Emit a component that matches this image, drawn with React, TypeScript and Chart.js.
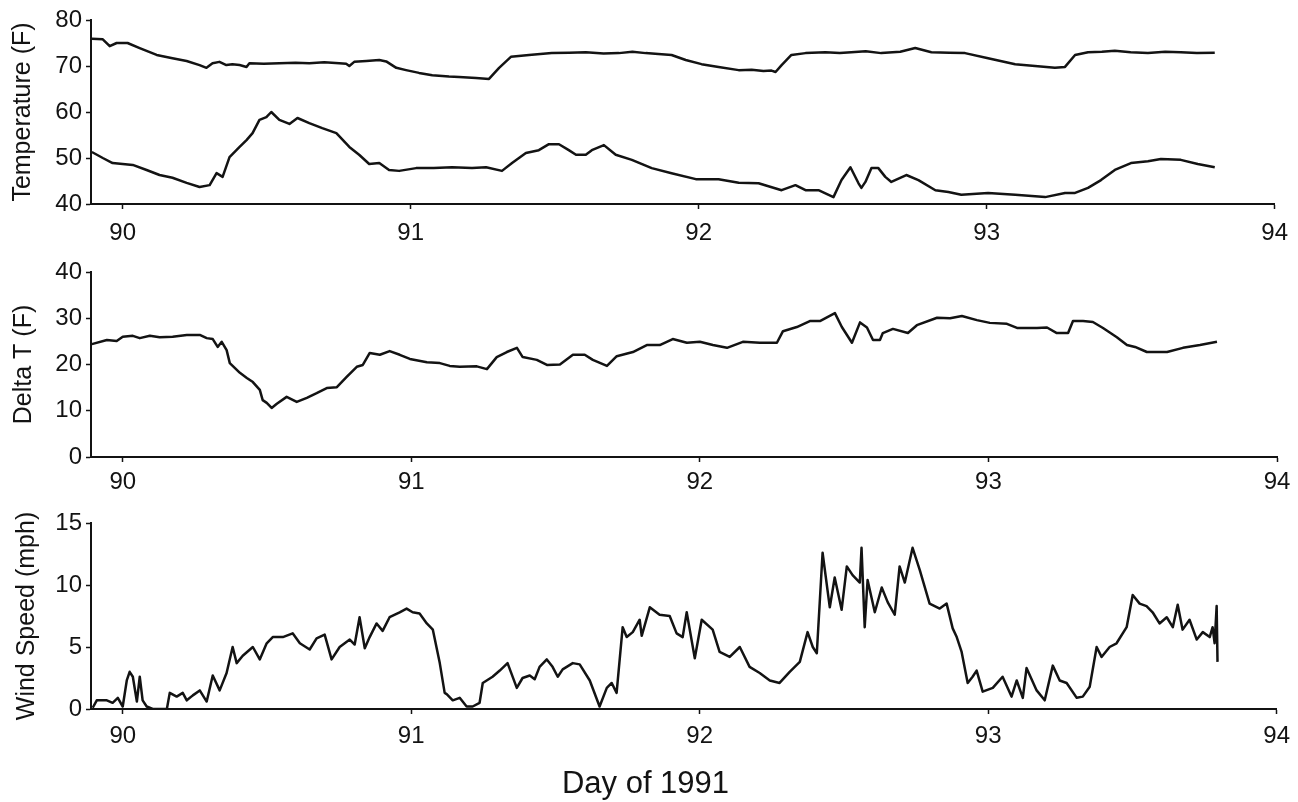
import React, { useEffect, useRef } from "react";
import { Chart, registerables } from "chart.js";

Chart.register(...registerables);

// Shared day axis (day of year 1991)
const X_MIN = 89.89;
const X_MAX = 94;
const dayTicks = [90, 91, 92, 93, 94];

// Indoor air temperature (F)
const indoorDays = [89.893, 89.931, 89.955, 89.979, 90.017, 90.059, 90.118, 90.173, 90.222, 90.267, 90.291, 90.312, 90.336, 90.36, 90.381, 90.406, 90.43, 90.44, 90.49, 90.544, 90.6, 90.648, 90.7, 90.752, 90.776, 90.787, 90.804, 90.846, 90.891, 90.915, 90.95, 90.984, 91.029, 91.075, 91.133, 91.168, 91.227, 91.272, 91.307, 91.348, 91.411, 91.45, 91.49, 91.55, 91.608, 91.67, 91.723, 91.77, 91.816, 91.86, 91.906, 91.955, 92.01, 92.069, 92.139, 92.184, 92.225, 92.253, 92.267, 92.288, 92.322, 92.371, 92.44, 92.49, 92.53, 92.58, 92.634, 92.7, 92.752, 92.808, 92.87, 92.925, 93.005, 93.099, 93.168, 93.237, 93.272, 93.307, 93.352, 93.4, 93.445, 93.5, 93.56, 93.62, 93.674, 93.73, 93.792];
const indoorTemp = [75.9, 75.8, 74.3, 75.0, 75.0, 73.9, 72.4, 71.7, 71.1, 70.2, 69.6, 70.6, 70.9, 70.2, 70.4, 70.2, 69.8, 70.6, 70.5, 70.6, 70.7, 70.6, 70.8, 70.6, 70.5, 70.0, 70.9, 71.1, 71.3, 71.0, 69.6, 69.1, 68.5, 68.0, 67.7, 67.6, 67.4, 67.2, 69.6, 72.0, 72.4, 72.6, 72.8, 72.9, 73.0, 72.7, 72.8, 73.1, 72.8, 72.6, 72.4, 71.3, 70.4, 69.8, 69.1, 69.2, 68.9, 69.0, 68.7, 70.2, 72.4, 72.8, 73.0, 72.8, 73.0, 73.2, 72.8, 73.1, 73.9, 73.0, 72.9, 72.8, 71.7, 70.4, 70.0, 69.6, 69.8, 72.4, 73.0, 73.1, 73.3, 73.0, 72.8, 73.1, 73.0, 72.8, 72.9];

// Outdoor air temperature (F)
const outdoorDays = [89.893, 89.931, 89.965, 90.035, 90.083, 90.128, 90.173, 90.222, 90.267, 90.302, 90.326, 90.347, 90.371, 90.406, 90.43, 90.451, 90.475, 90.499, 90.516, 90.544, 90.579, 90.607, 90.648, 90.693, 90.742, 90.787, 90.821, 90.856, 90.891, 90.925, 90.96, 91.019, 91.08, 91.144, 91.213, 91.262, 91.317, 91.352, 91.4, 91.445, 91.48, 91.515, 91.549, 91.574, 91.608, 91.629, 91.671, 91.712, 91.768, 91.837, 91.906, 91.99, 92.069, 92.139, 92.208, 92.288, 92.336, 92.371, 92.416, 92.468, 92.496, 92.527, 92.555, 92.565, 92.579, 92.6, 92.624, 92.648, 92.669, 92.721, 92.763, 92.822, 92.867, 92.912, 93.005, 93.099, 93.203, 93.272, 93.307, 93.352, 93.397, 93.445, 93.501, 93.56, 93.605, 93.674, 93.733, 93.792];
const outdoorTemp = [51.3, 50.0, 48.9, 48.5, 47.4, 46.3, 45.7, 44.6, 43.7, 44.1, 46.7, 45.9, 50.2, 52.4, 53.9, 55.4, 58.3, 58.9, 60.0, 58.3, 57.4, 58.7, 57.6, 56.5, 55.4, 52.4, 50.7, 48.7, 48.9, 47.4, 47.2, 47.8, 47.8, 48.0, 47.8, 48.0, 47.2, 48.9, 51.1, 51.7, 53.0, 53.0, 51.7, 50.7, 50.7, 51.7, 52.8, 50.7, 49.6, 47.8, 46.7, 45.4, 45.4, 44.6, 44.5, 43.0, 44.1, 43.0, 43.0, 41.5, 45.2, 48.0, 44.5, 43.5, 44.8, 47.8, 47.8, 45.9, 44.8, 46.3, 45.2, 43.0, 42.6, 42.0, 42.4, 42.0, 41.5, 42.4, 42.4, 43.5, 45.2, 47.4, 48.9, 49.3, 49.8, 49.6, 48.7, 48.0];

// Indoor minus outdoor temperature (F)
const deltaDays = [89.893, 89.945, 89.979, 90.0, 90.035, 90.059, 90.094, 90.128, 90.173, 90.222, 90.267, 90.291, 90.312, 90.329, 90.343, 90.36, 90.371, 90.406, 90.43, 90.451, 90.475, 90.485, 90.499, 90.516, 90.534, 90.568, 90.603, 90.638, 90.672, 90.707, 90.742, 90.776, 90.811, 90.832, 90.856, 90.891, 90.925, 90.96, 90.995, 91.054, 91.099, 91.133, 91.168, 91.227, 91.262, 91.296, 91.331, 91.366, 91.386, 91.435, 91.47, 91.515, 91.56, 91.601, 91.629, 91.678, 91.712, 91.768, 91.816, 91.861, 91.906, 91.955, 92.0, 92.045, 92.094, 92.149, 92.208, 92.267, 92.288, 92.336, 92.381, 92.416, 92.468, 92.492, 92.527, 92.555, 92.579, 92.6, 92.624, 92.634, 92.669, 92.721, 92.752, 92.822, 92.867, 92.908, 92.96, 93.005, 93.064, 93.099, 93.168, 93.203, 93.237, 93.276, 93.293, 93.328, 93.362, 93.397, 93.445, 93.48, 93.508, 93.549, 93.619, 93.674, 93.733, 93.792];
const deltaT = [24.4, 25.3, 25.1, 26.0, 26.2, 25.7, 26.2, 25.9, 26.0, 26.4, 26.4, 25.7, 25.5, 23.8, 24.9, 23.1, 20.3, 18.2, 17.1, 16.2, 14.5, 12.3, 11.7, 10.6, 11.5, 13.0, 11.9, 12.8, 13.8, 14.9, 15.1, 17.3, 19.5, 19.9, 22.5, 22.1, 22.9, 22.1, 21.2, 20.5, 20.3, 19.7, 19.5, 19.6, 19.0, 21.6, 22.7, 23.6, 21.6, 21.0, 19.9, 20.0, 22.1, 22.1, 21.0, 19.7, 21.8, 22.7, 24.2, 24.2, 25.5, 24.7, 24.9, 24.2, 23.6, 24.9, 24.7, 24.7, 27.2, 28.1, 29.4, 29.4, 31.1, 28.1, 24.7, 29.1, 28.0, 25.3, 25.3, 26.8, 27.7, 26.8, 28.5, 30.1, 30.0, 30.5, 29.6, 29.0, 28.8, 27.9, 27.9, 28.0, 26.8, 26.8, 29.4, 29.4, 29.2, 27.9, 25.9, 24.2, 23.8, 22.7, 22.7, 23.6, 24.2, 24.9];

// Wind speed (mph)
const windDays = [89.896, 89.91, 89.945, 89.965, 89.983, 90.0, 90.014, 90.024, 90.035, 90.049, 90.059, 90.069, 90.083, 90.104, 90.153, 90.163, 90.187, 90.208, 90.222, 90.243, 90.267, 90.291, 90.312, 90.336, 90.36, 90.381, 90.395, 90.416, 90.451, 90.475, 90.499, 90.52, 90.555, 90.589, 90.614, 90.648, 90.672, 90.7, 90.724, 90.752, 90.787, 90.804, 90.821, 90.839, 90.856, 90.88, 90.901, 90.925, 90.96, 90.984, 91.005, 91.029, 91.054, 91.075, 91.099, 91.116, 91.123, 91.144, 91.168, 91.192, 91.213, 91.237, 91.248, 91.282, 91.307, 91.334, 91.366, 91.386, 91.411, 91.428, 91.445, 91.47, 91.49, 91.508, 91.525, 91.56, 91.584, 91.619, 91.653, 91.678, 91.695, 91.712, 91.733, 91.747, 91.768, 91.792, 91.799, 91.827, 91.861, 91.896, 91.92, 91.941, 91.955, 91.983, 92.007, 92.045, 92.069, 92.104, 92.139, 92.173, 92.208, 92.243, 92.277, 92.312, 92.347, 92.374, 92.392, 92.406, 92.426, 92.451, 92.468, 92.492, 92.51, 92.53, 92.555, 92.561, 92.572, 92.582, 92.607, 92.631, 92.652, 92.676, 92.693, 92.711, 92.738, 92.763, 92.797, 92.832, 92.856, 92.877, 92.891, 92.908, 92.929, 92.946, 92.96, 92.981, 93.016, 93.05, 93.081, 93.099, 93.12, 93.133, 93.168, 93.196, 93.224, 93.248, 93.272, 93.307, 93.328, 93.352, 93.376, 93.393, 93.421, 93.445, 93.48, 93.501, 93.525, 93.549, 93.57, 93.594, 93.619, 93.64, 93.657, 93.674, 93.698, 93.723, 93.744, 93.768, 93.778, 93.785, 93.792, 93.795];
const windSpeed = [0.1, 0.7, 0.7, 0.5, 0.9, 0.2, 2.3, 3.0, 2.6, 0.6, 2.6, 0.7, 0.2, 0.0, 0.0, 1.3, 1.0, 1.3, 0.7, 1.1, 1.5, 0.6, 2.7, 1.5, 2.9, 5.0, 3.7, 4.3, 5.0, 4.0, 5.3, 5.8, 5.8, 6.1, 5.3, 4.8, 5.7, 6.0, 4.0, 5.0, 5.6, 5.2, 7.4, 4.9, 5.8, 6.9, 6.3, 7.4, 7.8, 8.1, 7.8, 7.7, 6.9, 6.4, 3.7, 1.3, 1.2, 0.7, 0.9, 0.2, 0.2, 0.5, 2.1, 2.6, 3.1, 3.7, 1.7, 2.5, 2.7, 2.4, 3.4, 4.0, 3.4, 2.6, 3.2, 3.7, 3.6, 2.3, 0.2, 1.7, 2.1, 1.3, 6.6, 5.8, 6.2, 7.2, 5.9, 8.2, 7.6, 7.5, 6.1, 5.8, 7.8, 4.1, 7.2, 6.4, 4.6, 4.2, 5.0, 3.4, 2.9, 2.3, 2.1, 3.0, 3.8, 6.2, 5.0, 4.5, 12.6, 8.2, 10.6, 8.0, 11.5, 10.8, 10.2, 13.0, 6.6, 10.4, 7.8, 9.8, 8.6, 7.6, 11.5, 10.2, 13.0, 11.2, 8.5, 8.1, 8.5, 6.5, 5.8, 4.6, 2.1, 2.6, 3.1, 1.4, 1.7, 2.6, 1.0, 2.3, 0.9, 3.3, 1.5, 0.7, 3.5, 2.3, 2.1, 0.9, 1.0, 1.8, 5.0, 4.2, 5.0, 5.3, 6.6, 9.2, 8.5, 8.3, 7.8, 6.9, 7.4, 6.6, 8.4, 6.4, 7.2, 5.6, 6.2, 5.8, 6.6, 5.3, 8.3, 3.8];

// Value-axis ticks for each panel
const tempTicks = [40, 50, 60, 70, 80];
const deltaTicks = [0, 10, 20, 30, 40];
const windTicks = [0, 5, 10, 15];

const FONT = "'Liberation Sans', Arial, Helvetica, sans-serif";
const INK = "#131313";

type Series = { days: number[]; values: number[] };

type PanelSpec = {
  top: number;
  height: number;
  padTop: number;
  padLeft: number;
  yWidth: number;
  xHeight: number;
  yTitle: string;
  yTitlePad: number;
  yTicks: number[];
  xLabelPad: number;
  series: Series[];
  caption?: string;
};

const panels: PanelSpec[] = [
  {
    top: 0, height: 260, padTop: 20, padLeft: 0, yWidth: 91, xHeight: 56,
    yTitle: "Temperature (F)", yTitlePad: 10.5, yTicks: tempTicks, xLabelPad: 10,
    series: [
      { days: indoorDays, values: indoorTemp },
      { days: outdoorDays, values: outdoorTemp },
    ],
  },
  {
    top: 250, height: 260, padTop: 22, padLeft: 0, yWidth: 91, xHeight: 53,
    yTitle: "Delta T (F)", yTitlePad: 11.5, yTicks: deltaTicks, xLabelPad: 6,
    series: [{ days: deltaDays, values: deltaT }],
  },
  {
    top: 500, height: 302, padTop: 23, padLeft: 14, yWidth: 77, xHeight: 60,
    yTitle: "Wind Speed (mph)", yTitlePad: 0.5, yTicks: windTicks, xLabelPad: 8,
    series: [{ days: windDays, values: windSpeed }],
    caption: "Day of 1991",
  },
];

function buildConfig(spec: PanelSpec): any {
  const axisGrid = {
    display: true,
    drawOnChartArea: false,
    drawTicks: true,
    tickLength: 5,
    tickColor: INK,
    tickWidth: 1.5,
  };
  const axisBorder = { display: true, color: INK, width: 2 };
  const tickFont = { family: FONT, size: 24 };

  return {
    type: "line",
    data: {
      datasets: spec.series.map((s) => ({
        data: s.days.map((d, i) => ({ x: d, y: s.values[i] })),
        borderColor: INK,
        borderWidth: 2.5,
        borderJoinStyle: "round",
        pointRadius: 0,
        pointHoverRadius: 0,
        tension: 0,
        fill: false,
      })),
    },
    options: {
      responsive: false,
      maintainAspectRatio: false,
      animation: false,
      devicePixelRatio: 1,
      events: [],
      layout: {
        padding: { top: spec.padTop, left: spec.padLeft, right: 21, bottom: 0 },
      },
      plugins: {
        legend: { display: false },
        tooltip: { enabled: false },
        title: spec.caption
          ? {
              display: true,
              position: "bottom",
              text: spec.caption,
              color: INK,
              font: { family: FONT, size: 31, weight: "normal", lineHeight: 1 },
              padding: { top: 0, bottom: 2 },
            }
          : { display: false },
      },
      scales: {
        x: {
          type: "linear",
          min: X_MIN,
          max: X_MAX,
          afterBuildTicks: (scale: any) => {
            scale.ticks = dayTicks.map((v) => ({ value: v }));
          },
          afterFit: (scale: any) => {
            scale.height = spec.xHeight;
          },
          grid: axisGrid,
          border: axisBorder,
          ticks: {
            color: INK,
            font: tickFont,
            padding: spec.xLabelPad,
            maxRotation: 0,
            autoSkip: false,
            callback: (v: any) => String(v),
          },
        },
        y: {
          type: "linear",
          min: spec.yTicks[0],
          max: spec.yTicks[spec.yTicks.length - 1],
          afterBuildTicks: (scale: any) => {
            scale.ticks = spec.yTicks.map((v) => ({ value: v }));
          },
          afterFit: (scale: any) => {
            scale.width = spec.yWidth;
          },
          grid: axisGrid,
          border: axisBorder,
          ticks: {
            color: INK,
            font: tickFont,
            padding: 4,
            callback: (v: any) => String(v),
          },
          title: {
            display: true,
            text: spec.yTitle,
            color: INK,
            font: { family: FONT, size: 25, lineHeight: 1 },
            padding: { top: spec.yTitlePad, bottom: 0 },
          },
        },
      },
    },
  };
}

function Panel({ spec }: { spec: PanelSpec }) {
  const ref = useRef<HTMLCanvasElement | null>(null);
  useEffect(() => {
    if (!ref.current) return;
    const chart = new Chart(ref.current, buildConfig(spec));
    return () => chart.destroy();
  }, [spec]);
  return (
    <canvas
      ref={ref}
      width={1298}
      height={spec.height}
      style={{
        position: "absolute",
        left: 0,
        top: spec.top,
        width: 1298,
        height: spec.height,
      }}
    />
  );
}

export default function App() {
  return (
    <div
      style={{
        position: "absolute",
        left: 0,
        top: 0,
        width: 1298,
        height: 802,
        background: "#ffffff",
        overflow: "hidden",
      }}
    >
      {panels.map((p, i) => (
        <Panel key={i} spec={p} />
      ))}
    </div>
  );
}
